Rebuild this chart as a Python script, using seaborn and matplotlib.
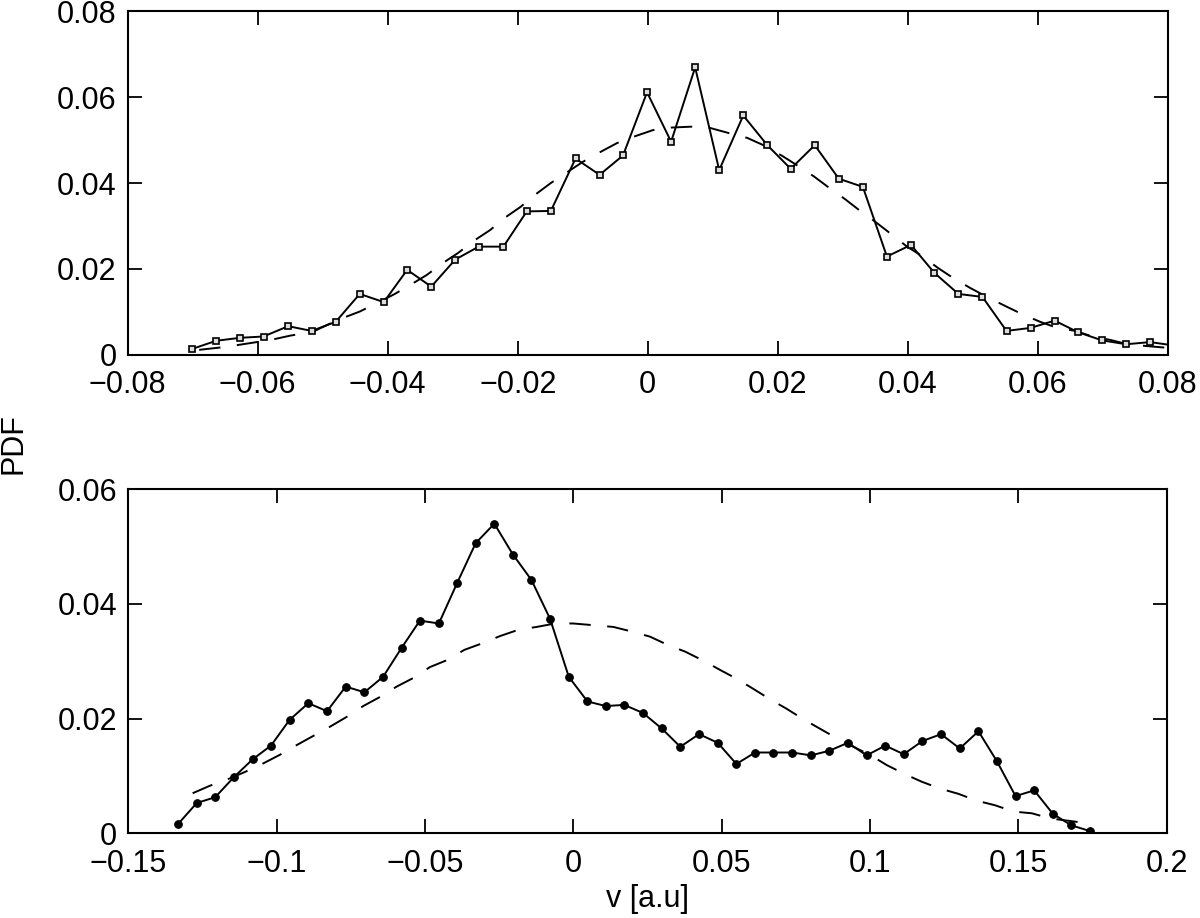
import matplotlib
matplotlib.use("Agg")
import matplotlib.pyplot as plt
import matplotlib.ticker as ticker
import seaborn as sns

# top panel: measured PDF (squares) and fitted gaussian (dashed)
top_v = [-0.0701, -0.0664, -0.0627, -0.0591, -0.0553, -0.0517, -0.0480, -0.0443, -0.0406, -0.0370,
         -0.0333, -0.0296, -0.0260, -0.0222, -0.0186, -0.0149, -0.0111, -0.0074, -0.0038, -0.0001,
         0.0036, 0.0073, 0.0110, 0.0147, 0.0184, 0.0220, 0.0257, 0.0294, 0.0331, 0.0368,
         0.0405, 0.0441, 0.0478, 0.0515, 0.0552, 0.0589, 0.0626, 0.0662, 0.0699, 0.0736,
         0.0773, 0.0810]
top_pdf = [0.0014, 0.0033, 0.0040, 0.0043, 0.0067, 0.0056, 0.0077, 0.0142, 0.0123, 0.0198,
           0.0159, 0.0222, 0.0252, 0.0252, 0.0334, 0.0335, 0.0457, 0.0419, 0.0464, 0.0611,
           0.0496, 0.0669, 0.0430, 0.0557, 0.0488, 0.0433, 0.0488, 0.0410, 0.0391, 0.0229,
           0.0256, 0.0191, 0.0142, 0.0135, 0.0056, 0.0063, 0.0080, 0.0053, 0.0034, 0.0025,
           0.0030, 0.0022]

top_fit_v = [-0.069, -0.066, -0.064, -0.061, -0.058, -0.055, -0.0515, -0.0493, -0.0469, -0.0443,
             -0.0407, -0.0389, -0.0363, -0.0340, -0.0315, -0.0292, -0.0266, -0.0242, -0.0220, -0.0196,
             -0.0172, -0.0149, -0.0123, -0.0100, -0.0073, -0.0047, -0.0019, 0.0008, 0.0037, 0.0067,
             0.0096, 0.0125, 0.0153, 0.0178, 0.0207, 0.0231, 0.0256, 0.0279, 0.0304, 0.0327,
             0.0350, 0.0373, 0.0399, 0.0419, 0.0447, 0.0470, 0.0496, 0.0522, 0.0550, 0.0576,
             0.0604, 0.0630, 0.0658, 0.0684, 0.0712, 0.0738, 0.0766, 0.0805]
top_fit_pdf = [0.0012, 0.0017, 0.0021, 0.0028, 0.0035, 0.0045, 0.0054, 0.0070, 0.0086, 0.0101,
               0.0128, 0.0142, 0.0165, 0.0186, 0.0214, 0.0237, 0.0267, 0.0291, 0.0319, 0.0344,
               0.0374, 0.0400, 0.0426, 0.0449, 0.0472, 0.0493, 0.0509, 0.0523, 0.0529, 0.0531,
               0.0528, 0.0516, 0.0505, 0.0488, 0.0463, 0.0440, 0.0415, 0.0389, 0.0362, 0.0335,
               0.0310, 0.0283, 0.0252, 0.0233, 0.0202, 0.0179, 0.0156, 0.0135, 0.0114, 0.0095,
               0.0077, 0.0063, 0.0056, 0.0043, 0.0035, 0.0025, 0.0021, 0.0016]

# bottom panel: measured PDF (dots) and fitted gaussian (dashed)
bot_v = [-0.1331, -0.1269, -0.1207, -0.1144, -0.1081, -0.1019, -0.0956, -0.0893, -0.0830, -0.0767,
         -0.0704, -0.0641, -0.0578, -0.0517, -0.0453, -0.0391, -0.0329, -0.0266, -0.0203, -0.0141,
         -0.0078, -0.0015, 0.0048, 0.0110, 0.0172, 0.0235, 0.0298, 0.0361, 0.0424, 0.0487,
         0.0550, 0.0613, 0.0675, 0.0738, 0.0801, 0.0863, 0.0926, 0.0989, 0.1052, 0.1114,
         0.1177, 0.1240, 0.1303, 0.1366, 0.1428, 0.1491, 0.1554, 0.1617, 0.1679, 0.1742]
bot_pdf = [0.0017, 0.0053, 0.0063, 0.0098, 0.0129, 0.0153, 0.0198, 0.0227, 0.0213, 0.0256,
           0.0246, 0.0273, 0.0324, 0.0371, 0.0366, 0.0437, 0.0506, 0.0540, 0.0486, 0.0442,
           0.0374, 0.0273, 0.0230, 0.0222, 0.0224, 0.0210, 0.0183, 0.0151, 0.0173, 0.0158,
           0.0121, 0.0141, 0.0141, 0.0141, 0.0136, 0.0144, 0.0158, 0.0136, 0.0153, 0.0138,
           0.0161, 0.0173, 0.0148, 0.0178, 0.0126, 0.0065, 0.0075, 0.0034, 0.0014, 0.0004]

bot_fit_v = [-0.1283, -0.1225, -0.1157, -0.1107, -0.1045, -0.0989, -0.0932, -0.0876, -0.0820, -0.0764,
             -0.0708, -0.0651, -0.0595, -0.0539, -0.0483, -0.0426, -0.0367, -0.0309, -0.0247, -0.0185,
             -0.0123, -0.0061, 0.0000, 0.0068, 0.0135, 0.0197, 0.0259, 0.0321, 0.0377, 0.0439,
             0.0495, 0.0553, 0.0607, 0.0666, 0.0717, 0.0776, 0.0830, 0.0888, 0.0944, 0.1000,
             0.1057, 0.1119, 0.1175, 0.1237, 0.1298, 0.1360, 0.1422, 0.1484, 0.1546, 0.1608,
             0.1669, 0.1742]
bot_fit_pdf = [0.0070, 0.0083, 0.0096, 0.0107, 0.0122, 0.0137, 0.0154, 0.0170, 0.0186, 0.0203,
               0.0222, 0.0238, 0.0256, 0.0271, 0.0290, 0.0302, 0.0320, 0.0331, 0.0344, 0.0355,
               0.0360, 0.0366, 0.0366, 0.0363, 0.0360, 0.0352, 0.0343, 0.0328, 0.0317, 0.0301,
               0.0285, 0.0269, 0.0252, 0.0233, 0.0218, 0.0199, 0.0183, 0.0166, 0.0151, 0.0137,
               0.0119, 0.0103, 0.0090, 0.0078, 0.0069, 0.0057, 0.0049, 0.0038, 0.0035, 0.0026,
               0.0022, 0.0017]

top_xticks = [-0.08, -0.06, -0.04, -0.02, 0, 0.02, 0.04, 0.06, 0.08]
top_yticks = [0, 0.02, 0.04, 0.06, 0.08]
bot_xticks = [-0.15, -0.1, -0.05, 0, 0.05, 0.1, 0.15, 0.2]
bot_yticks = [0, 0.02, 0.04, 0.06]

sns.set_style("ticks")
plt.rcParams['font.family'] = ['Liberation Sans', 'DejaVu Sans']
plt.rcParams['axes.unicode_minus'] = True
plt.rcParams['text.color'] = 'black'
plt.rcParams['axes.labelcolor'] = 'black'
plt.rcParams['xtick.color'] = 'black'
plt.rcParams['ytick.color'] = 'black'

fig = plt.figure(figsize=(12, 9.18), dpi=100)
ax1 = fig.add_axes([0.1064, 0.6133, 0.8667, 0.3747])
ax2 = fig.add_axes([0.1069, 0.0922, 0.8652, 0.3748])


def fmt(x, pos):
    s = '%g' % x
    return s.replace('-', '\u2212')


def style_axis(ax, xticks, yticks, xlim, ylim):
    ax.set_xlim(*xlim)
    ax.set_ylim(*ylim)
    ax.set_xticks(xticks)
    ax.set_yticks(yticks)
    ax.xaxis.set_major_formatter(ticker.FuncFormatter(fmt))
    ax.yaxis.set_major_formatter(ticker.FuncFormatter(fmt))
    ax.tick_params(direction='in', length=10, width=1.3, labelsize=22, color='black',
                   labelcolor='black', top=True, right=True)
    ax.tick_params(axis='x', pad=11)
    ax.tick_params(axis='y', pad=8)
    for sp in ax.spines.values():
        sp.set_visible(True)
        sp.set_linewidth(1.5)
        sp.set_color('black')
    ax.set_xlabel('')
    ax.set_ylabel('')


# top panel
sns.lineplot(x=top_fit_v, y=top_fit_pdf, ax=ax1, color='black', lw=1.4,
             dashes=False, sort=False, estimator=None)
ax1.lines[-1].set_dashes((11, 8.5))
sns.lineplot(x=top_v, y=top_pdf, ax=ax1, color='black', lw=1.4, marker='s',
             markersize=5, markerfacecolor='#dddddd', markeredgecolor='black',
             markeredgewidth=1.2, sort=False, estimator=None)
style_axis(ax1, top_xticks, top_yticks, (-0.08, 0.08), (0, 0.08))

# bottom panel
sns.lineplot(x=bot_fit_v, y=bot_fit_pdf, ax=ax2, color='black', lw=1.4,
             dashes=False, sort=False, estimator=None)
ax2.lines[-1].set_dashes((11, 8.5))
sns.lineplot(x=bot_v, y=bot_pdf, ax=ax2, color='black', lw=1.4, marker='o',
             markersize=5.5, markerfacecolor='black', markeredgecolor='black',
             sort=False, estimator=None)
style_axis(ax2, bot_xticks, bot_yticks, (-0.15, 0.2), (0, 0.06))
ax2.set_xlabel('v [a.u]', fontsize=22, labelpad=4)

fig.text(14 / 1200, 0.517, 'PDF', rotation=90, fontsize=22, ha='center', va='center')

fig.savefig('out.png', dpi=100)
